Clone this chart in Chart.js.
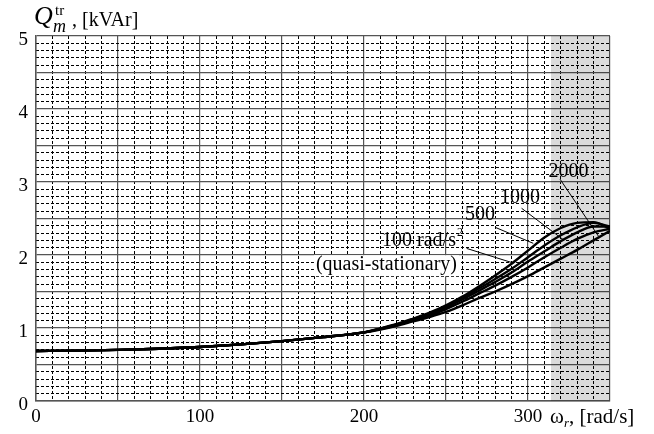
<!DOCTYPE html>
<html><head><meta charset="utf-8">
<script src="https://cdn.jsdelivr.net/npm/chart.js@4/dist/chart.umd.min.js"></script>
<style>html,body{margin:0;padding:0;background:#fff}#wrap{width:654px;height:434px}</style>
</head><body><div id="wrap"><canvas id="c" width="654" height="434"></canvas></div>
<script>
// ---- data ----
const omega    = [0,25,50,75,100,125,150,175,200,210,220,230,240,250,260,270,280,290,300,310,320,330,340,350];
const qQuasi   = [0.685,0.69,0.70,0.715,0.74,0.775,0.82,0.875,0.94,0.98,1.03,1.09,1.15,1.22,1.31,1.41,1.50,1.60,1.71,1.83,1.95,2.07,2.20,2.33];
const q100     = [0.685,0.69,0.70,0.715,0.74,0.775,0.82,0.875,0.94,0.985,1.04,1.10,1.17,1.26,1.36,1.47,1.58,1.70,1.83,1.97,2.10,2.22,2.31,2.36];
const q500     = [0.685,0.69,0.70,0.715,0.74,0.775,0.82,0.875,0.94,0.99,1.045,1.11,1.19,1.28,1.39,1.51,1.63,1.76,1.91,2.05,2.19,2.31,2.39,2.39];
const q1000    = [0.685,0.69,0.70,0.715,0.74,0.775,0.82,0.875,0.94,0.99,1.05,1.12,1.20,1.30,1.41,1.54,1.67,1.81,1.97,2.13,2.27,2.38,2.44,2.39];
const q2000    = [0.685,0.69,0.70,0.715,0.74,0.775,0.82,0.875,0.94,0.995,1.055,1.13,1.21,1.31,1.43,1.57,1.72,1.88,2.06,2.24,2.37,2.44,2.45,2.36];
const seriesNames = ['quasi-stationary','100 rad/s²','500','1000','2000'];
const shadeRange = [314, 350];
const xTickLabels = [0, 100, 200, 300];
const yTickLabels = [0, 1, 2, 3, 4, 5];

// ---- annotations (data coordinates) ----
const annotations = [
  {text:'2000', x:324.7, y:3.14, align:'center'},
  {text:'1000', x:295.1, y:2.78, align:'center'},
  {text:'500',  x:270.7, y:2.55, align:'center'},
  {text:'100 rad/s', sup:'2', x:211, y:2.19, align:'left'},
  {text:'(quasi-stationary)', x:256.7, y:1.86, align:'right', bg:true}
];
const leaders = [
  [319.5,3.04,342.9,2.26],
  [296.1,2.64,321.5,2.21],
  [279.9,2.38,303.2,2.16],
  [262.6,2.09,291.0,1.89]
];

const FONT = '"Liberation Serif", "Times New Roman", serif';
const isMult = (v, s) => Math.abs(v / s - Math.round(v / s)) < 1e-6;

function pts(ys){ return omega.map((x,i)=>({x, y: ys[i]})); }
function curve(label, ys){
  return {label, data: pts(ys), borderColor:'#000', borderWidth:2.4, pointRadius:0,
          cubicInterpolationMode:'monotone', fill:false, xAxisID:'x', yAxisID:'y'};
}

const annoPlugin = {
  id:'anno',
  afterDatasetsDraw(chart){
    const {ctx} = chart; const xs = chart.scales.x, ys = chart.scales.y;
    ctx.save();
    ctx.strokeStyle = '#000'; ctx.lineWidth = 1;
    leaders.forEach(l=>{
      ctx.beginPath();
      ctx.moveTo(xs.getPixelForValue(l[0]), ys.getPixelForValue(l[1]));
      ctx.lineTo(xs.getPixelForValue(l[2]), ys.getPixelForValue(l[3]));
      ctx.stroke();
    });
    ctx.font = '20px ' + FONT; ctx.textBaseline = 'middle';
    annotations.forEach(a=>{
      const px = xs.getPixelForValue(a.x), py = ys.getPixelForValue(a.y);
      const w = ctx.measureText(a.text).width;
      let left = a.align==='left' ? px : a.align==='right' ? px - w : px - w/2;
      if (a.bg){ ctx.fillStyle='#fff'; ctx.fillRect(left-2, py-10, w+4, 21); }
      ctx.fillStyle='#000'; ctx.textAlign='left';
      ctx.fillText(a.text, left, py);
      if (a.sup){ ctx.font='12px '+FONT; ctx.fillText(a.sup, left+w+1, py-8); ctx.font='20px '+FONT; }
    });
    ctx.restore();
  }
};

const titlePlugin = {
  id:'titles',
  afterDraw(chart){
    const ctx = chart.ctx; ctx.save(); ctx.fillStyle='#000'; ctx.textBaseline='alphabetic'; ctx.textAlign='left';
    ctx.font = 'italic 26px ' + FONT; ctx.fillText('Q', 34, 24);
    ctx.font = '15px ' + FONT; ctx.fillText('tr', 55, 15);
    ctx.font = 'italic 18px ' + FONT; ctx.fillText('m', 53, 32);
    ctx.font = '20px ' + FONT; ctx.fillText(', [kVAr]', 72, 26);
    ctx.font = '21px ' + FONT; ctx.fillText('ω', 550, 423);
    ctx.font = 'italic 13px ' + FONT; ctx.fillText('r', 564, 427);
    ctx.font = '21px ' + FONT; ctx.fillText(', [rad/s]', 569, 423);
    ctx.restore();
  }
};

new Chart(document.getElementById('c'), {
  type:'line',
  data:{ datasets:[
    curve(seriesNames[4], q2000),
    curve(seriesNames[3], q1000),
    curve(seriesNames[2], q500),
    curve(seriesNames[1], q100),
    curve(seriesNames[0], qQuasi),
    {label:'shade', data: shadeRange.map(x=>({x, y:5})), borderWidth:0, pointRadius:0,
     backgroundColor:'rgba(0,0,0,0.14)', fill:'origin', xAxisID:'x', yAxisID:'y'}
  ]},
  options:{
    responsive:false, devicePixelRatio:1, animation:false,
    layout:{padding:{top:36, right:44, left:0, bottom:0}},
    plugins:{legend:{display:false}, tooltip:{enabled:false}},
    scales:{
      x:{type:'linear', min:0, max:350, position:'bottom',
         ticks:{display:false, stepSize:10, maxTicksLimit:100},
         grid:{color:c=> isMult(c.tick.value,50)?'rgba(0,0,0,0)':'#000', lineWidth:1, drawTicks:false},
         border:{display:false, dash:[3,2]},
         afterFit:s=>{s.height=0;}},
      xMaj:{type:'linear', min:0, max:350, position:'bottom',
         ticks:{stepSize:50, autoSkip:false, maxTicksLimit:100, maxRotation:0, color:'#000', padding:5,
                font:{family:FONT, size:19},
                callback:v=> xTickLabels.includes(v) ? String(v) : ''},
         grid:{color:'#555', lineWidth:1.2, drawTicks:false},
         border:{display:true, color:'#555', width:1.5},
         afterFit:s=>{s.height=33;}},
      y:{type:'linear', min:0, max:5, position:'left',
         ticks:{display:false, stepSize:0.1, maxTicksLimit:100},
         grid:{color:c=> isMult(c.tick.value,0.5)?'rgba(0,0,0,0)':'#000', lineWidth:1, drawTicks:false},
         border:{display:false, dash:[3,2]},
         afterFit:s=>{s.width=0;}},
      yMaj:{type:'linear', min:0, max:5, position:'left',
         ticks:{stepSize:0.5, autoSkip:false, maxTicksLimit:100, color:'#000', padding:8, labelOffset:4,
                font:{family:FONT, size:19},
                callback:v=> yTickLabels.includes(v) ? String(v) : ''},
         grid:{color:'#555', lineWidth:1.2, drawTicks:false},
         border:{display:true, color:'#555', width:1.5},
         afterFit:s=>{s.width=36;}}
    }
  },
  plugins:[annoPlugin, titlePlugin]
});
</script></body></html>
